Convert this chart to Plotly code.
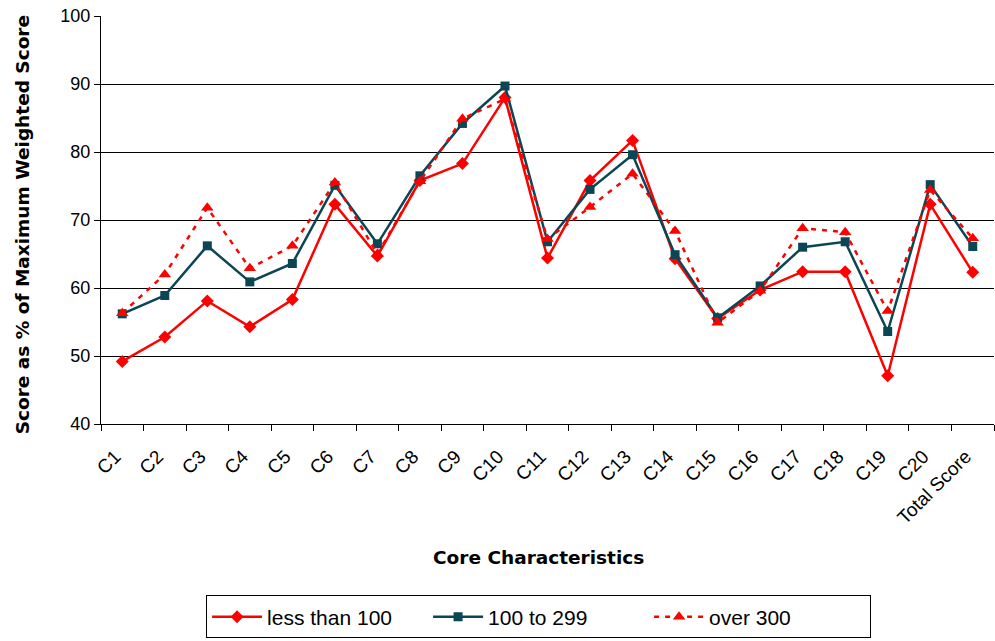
import plotly.graph_objects as go

categories = ["C1", "C2", "C3", "C4", "C5", "C6", "C7", "C8", "C9", "C10",
              "C11", "C12", "C13", "C14", "C15", "C16", "C17", "C18", "C19", "C20",
              "Total Score"]

less_than_100 = [49.2, 52.8, 58.1, 54.3, 58.3, 72.3, 64.7, 75.8, 78.3, 88.0,
                 64.4, 75.8, 81.7, 64.3, 55.5, 59.7, 62.4, 62.4, 47.1, 72.3, 62.3]
from_100_to_299 = [56.2, 58.9, 66.2, 60.9, 63.6, 75.1, 66.5, 76.5, 84.2, 89.7,
                   66.8, 74.5, 79.6, 64.9, 55.6, 60.3, 66.0, 66.8, 53.6, 75.2, 66.1]
over_300 = [56.3, 62.0, 71.8, 62.9, 66.2, 75.5, 65.0, 75.7, 84.9, 87.8,
            67.2, 71.9, 76.8, 68.4, 54.9, 59.6, 68.8, 68.2, 56.6, 74.4, 67.3]

RED = "#ff0000"
TEAL = "#0b4654"
FONT = "Liberation Sans, Arial, sans-serif"
TITLE_FONT = "DejaVu Sans, Liberation Sans, sans-serif"

fig = go.Figure()
fig.add_trace(go.Scatter(
    x=categories, y=less_than_100, name="less than 100", mode="lines+markers",
    line=dict(color=RED, width=2.5),
    marker=dict(symbol="diamond", size=10, color=RED)))
fig.add_trace(go.Scatter(
    x=categories, y=from_100_to_299, name="100 to 299", mode="lines+markers",
    line=dict(color=TEAL, width=2.5),
    marker=dict(symbol="square", size=9, color=TEAL)))
fig.add_trace(go.Scatter(
    x=categories, y=over_300, name="over 300", mode="lines+markers",
    line=dict(color=RED, width=2.5, dash="5px,6px"),
    marker=dict(symbol="triangle-up", size=11, color=RED)))

fig.update_layout(
    width=995, height=641,
    margin=dict(l=101, r=1, t=16, b=217),
    paper_bgcolor="white", plot_bgcolor="white",
    font=dict(family=FONT, size=18, color="black"),
    showlegend=True,
    legend=dict(orientation="h", x=0.49, y=-0.473, xanchor="center", yanchor="middle",
                bordercolor="black", borderwidth=1, font=dict(size=21),
                itemwidth=50, entrywidth=156, tracegroupgap=0),
    xaxis=dict(type="category", range=[-0.5, 20.5], tickson="boundaries",
               ticks="outside", ticklen=6, tickcolor="black",
               showline=True, linecolor="black", linewidth=1,
               showgrid=False, tickangle=-45, ticklabelstandoff=13,
               ticklabelshift=-7,
               tickfont=dict(family=FONT, size=19)),
    yaxis=dict(range=[40, 100], dtick=10, ticks="outside", ticklen=6, tickcolor="black",
               showline=True, linecolor="black", linewidth=1,
               showgrid=True, gridcolor="black", gridwidth=1,
               zeroline=False, tickfont=dict(family=FONT, size=18)),
    annotations=[
        dict(text="<b>Core Characteristics</b>", xref="paper", yref="paper",
             x=0.49, y=-0.328, xanchor="center", yanchor="middle", showarrow=False,
             font=dict(family=TITLE_FONT, size=18.5)),
        dict(text="<b>Score as % of Maximum Weighted Score</b>", xref="paper", yref="paper",
             x=-0.088, y=0.488, xanchor="center", yanchor="middle", showarrow=False,
             textangle=-90, font=dict(family=TITLE_FONT, size=18.5)),
    ],
)

fig.write_html("out.html")
